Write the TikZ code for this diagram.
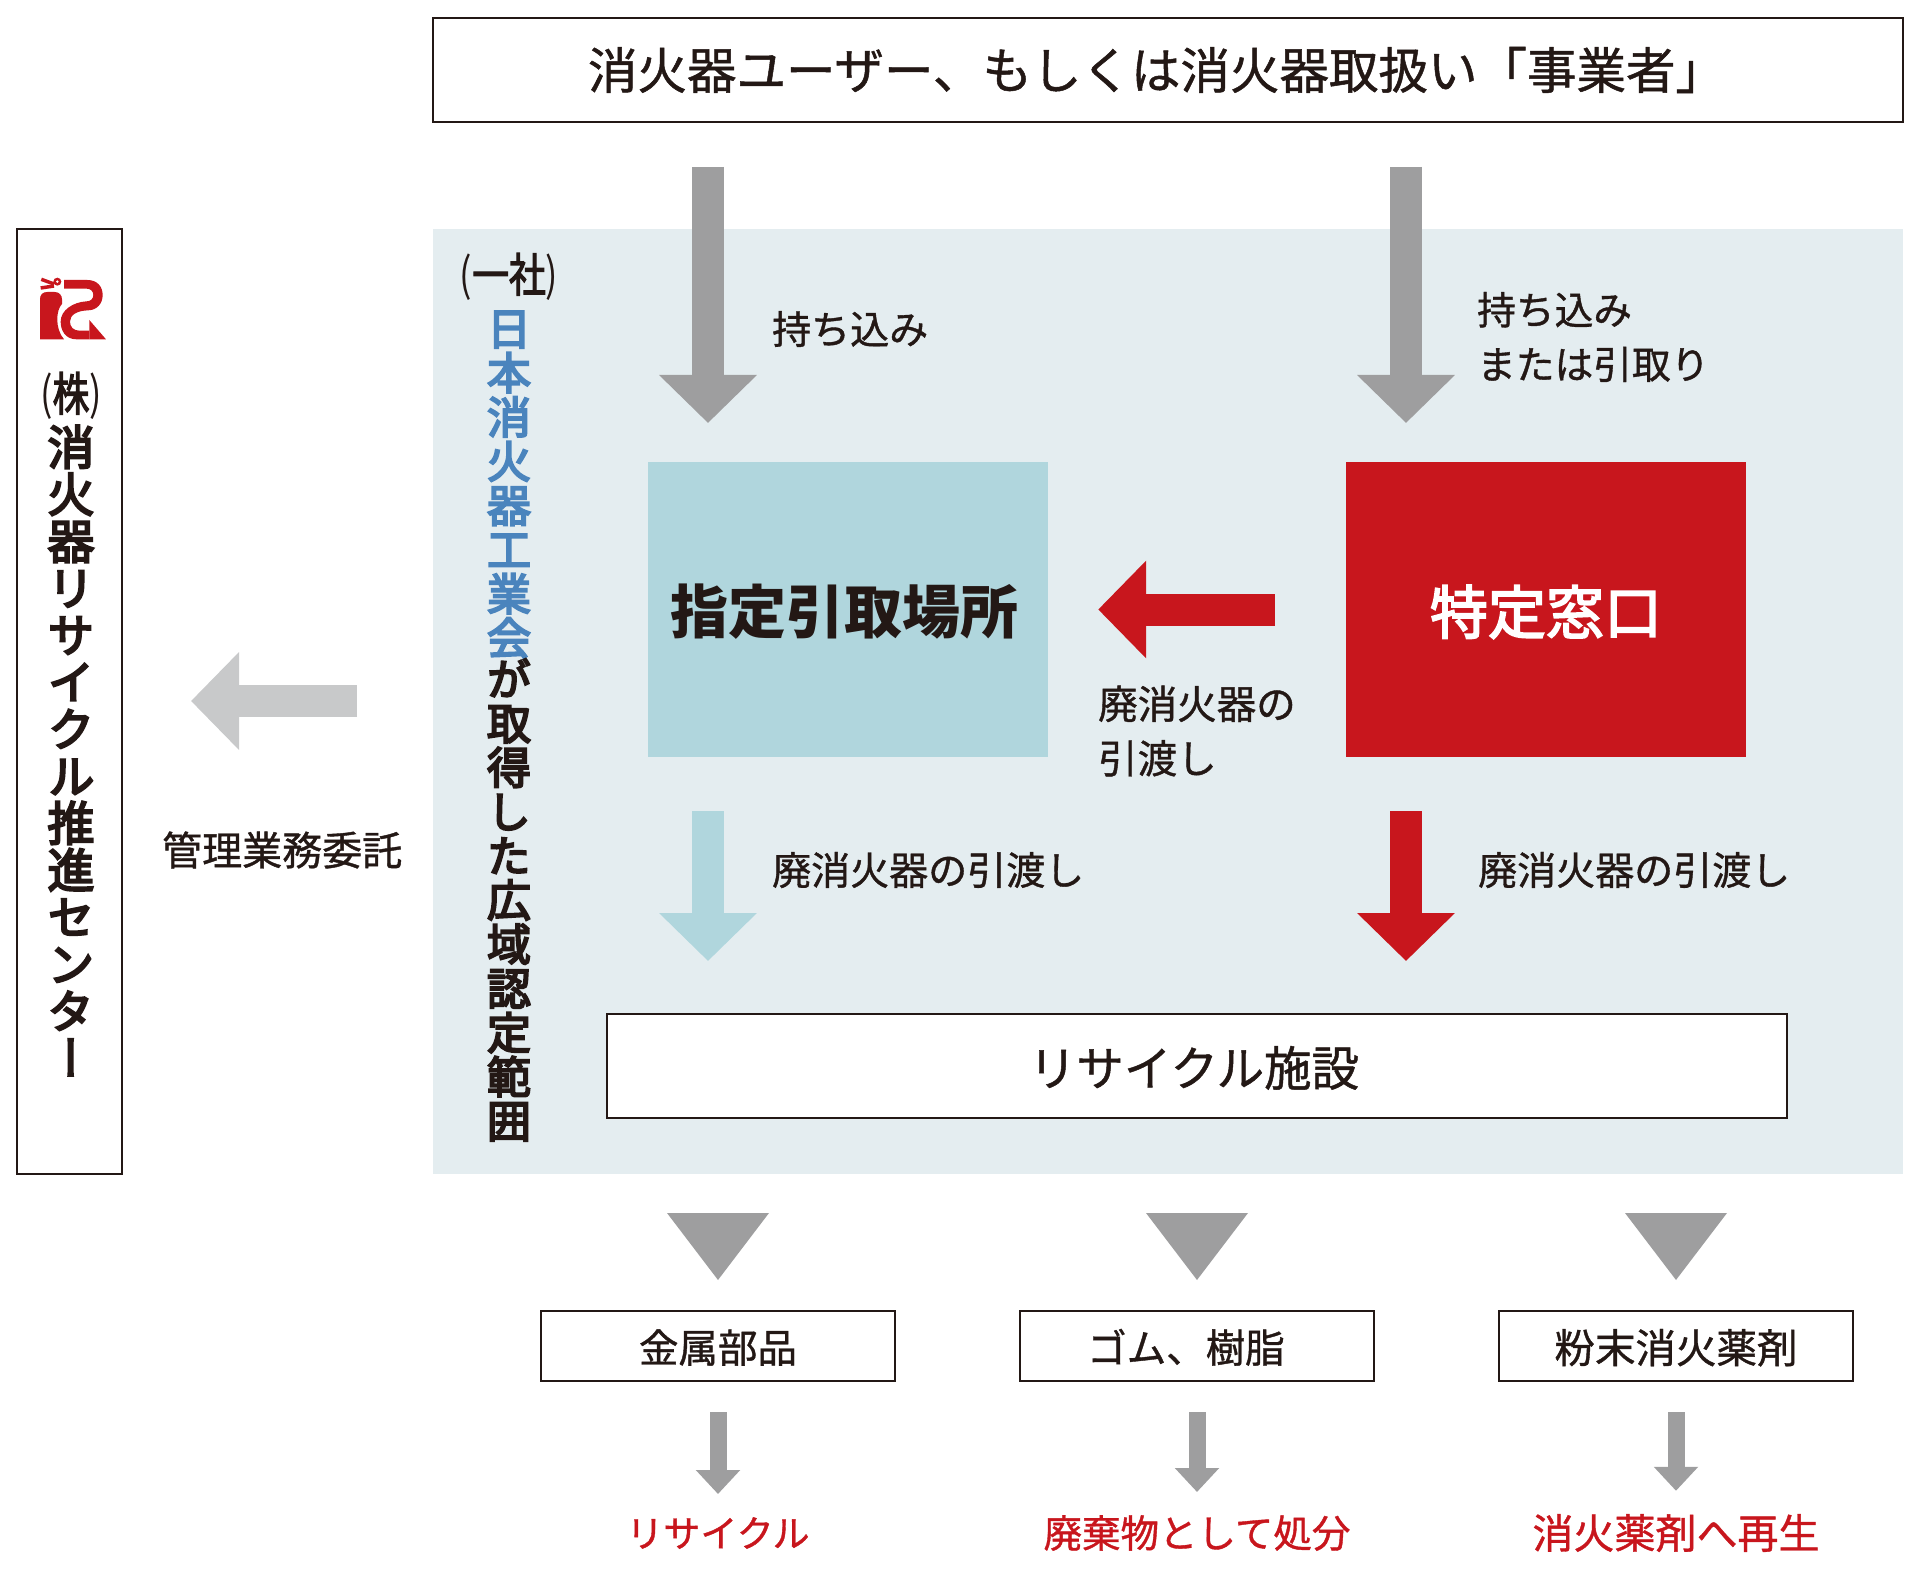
\documentclass[tikz,border=0pt]{standalone}
\usepackage{graphicx}
\usepackage{fontspec}
\setmainfont{Noto Sans CJK JP}
\newfontfamily\mediumfont[FakeBold=1]{Noto Sans CJK JP}
\newfontfamily\heavyfont[FakeBold=3]{Noto Sans CJK JP}
\newfontfamily\vertfont[RawFeature={+vert}, FakeBold=4.5]{Noto Sans CJK JP}
\usetikzlibrary{arrows.meta,positioning}
\definecolor{inkblack}{HTML}{231815}
\definecolor{panelblue}{HTML}{E4EDF0}
\definecolor{paleblue}{HTML}{B0D6DD}
\definecolor{firered}{HTML}{C8161D}
\definecolor{arrowgray}{HTML}{9E9E9F}
\definecolor{palegray}{HTML}{C8C9CA}
\definecolor{nameblue}{HTML}{4A84BD}
\newcommand{\cjkstrut}{\rule[-.12em]{0pt}{1.08em}}
\tikzset{
	linebox/.style={draw=inkblack, line width=2, fill=white, inner sep=0, text=inkblack},
	areabox/.style={inner sep=0, minimum width=400, minimum height=295},
	label/.style={inner sep=0, anchor=west, align=left, text=inkblack, font=\mediumfont\fontsize{39}{54.5}\selectfont},
	redlabel/.style={inner sep=0, text=firered},
	bigarrow/.style={line width=32, -{Triangle[length=48,width=95]}},
	smallarrow/.style={line width=17, arrowgray, -{Triangle[length=24,width=43]}},
	vertlabel/.style={inner sep=0, align=center, text=inkblack},
}
\begin{document}
\begin{tikzpicture}[x=1pt, y=-1pt]
	\useasboundingbox (0,0) rectangle (1920,1578);
	\fill[panelblue] (433,229) rectangle (1903,1174);

	% boxes
	\node[linebox, minimum width=1470, minimum height=104, font=\mediumfont\fontsize{49.5}{49.5}\selectfont] (user) at (1168,70) {\hspace*{-23pt}消火器ユーザー、もしくは消火器取扱い「事業者」};
	\node[linebox, minimum width=105, minimum height=945] (center) at (69.5,701.5) {};
	\node[areabox, fill=paleblue, text=inkblack, font=\fontsize{58}{58}\bfseries\selectfont] (yard) at (848,609.5) {\hspace*{-7pt}\cjkstrut 指定引取場所};
	\node[areabox, fill=firered, text=white, font=\heavyfont\fontsize{58}{58}\selectfont] (window) at (1546,609.5) {\cjkstrut 特定窓口};
	\node[linebox, minimum width=1180, minimum height=104, font=\mediumfont\fontsize{47.5}{47.5}\selectfont] (plant) at (1197,1066) {\hspace*{-6pt}\cjkstrut リサイクル施設};
	\node[linebox, minimum width=354, minimum height=70, font=\mediumfont\fontsize{39.5}{39.5}\selectfont] (metal) at (718,1346) {\cjkstrut 金属部品};
	\node[linebox, minimum width=354, minimum height=70, font=\mediumfont\fontsize{39.5}{39.5}\selectfont] (rubber) at (1197,1346) {\hspace*{-22pt}\cjkstrut ゴム、樹脂};
	\node[linebox, minimum width=354, minimum height=70, font=\mediumfont\fontsize{40.5}{40.5}\selectfont] (powder) at (1676,1346) {\cjkstrut 粉末消火薬剤};

	% labels
	\node[label] (bringa) at (772,329) {持ち込み};
	\node[label, font=\mediumfont\fontsize{38.7}{54.5}\selectfont] (bringb) at (1477,337) {持ち込み\\または引取り};
	\node[label, font=\mediumfont\fontsize{39.5}{54.5}\selectfont] (handa) at (1098,731) {廃消火器の\\引渡し};
	\node[label] (handb) at (772,870) {廃消火器の引渡し};
	\node[label] (handc) at (1478,870) {廃消火器の引渡し};
	\node[label, font=\mediumfont\fontsize{40}{40}\selectfont] (admin) at (162,850) {管理業務委託};
	\node[redlabel, font=\mediumfont\fontsize{37}{37}\selectfont] (reuse) at (718,1533) {リサイクル};
	\node[redlabel, font=\mediumfont\fontsize{38.5}{38.5}\selectfont] (waste) at (1197,1533) {廃棄物として処分};
	\node[redlabel, font=\mediumfont\fontsize{41}{41}\selectfont] (reborn) at (1676,1533) {消火薬剤へ再生};

	% vertical names
	\node[vertlabel, font=\fontsize{46}{50}\selectfont] (kabu) at (71,396) {\scalebox{0.8}[1]{({\heavyfont 株})}};
	\node[vertlabel, below=5pt of kabu, font=\vertfont\fontsize{47}{47}\selectfont] (centername) {消\\火\\器\\リ\\サ\\イ\\ク\\ル\\推\\進\\セ\\ン\\タ\\ー};
	\node[vertlabel, font=\fontsize{46}{50}\selectfont] (assoc) at (509,277) {\scalebox{0.8}[1]{({\heavyfont 一社})}};
	\node[vertlabel, below=10pt of assoc, text=nameblue, font=\vertfont\fontsize{44}{44.2}\selectfont] (assocblue) {日\\本\\消\\火\\器\\工\\業\\会};
	\node[vertlabel, below=0pt of assocblue, font=\vertfont\fontsize{44}{44.2}\selectfont] (assocblack) {が\\取\\得\\し\\た\\広\\域\\認\\定\\範\\囲};

	% logo
	\begin{scope}[shift={(20,260)}, scale=1/3, firered]
		\fill (60,238) -- (60,118) .. controls (60,104) and (68,96) .. (82,96) -- (104,96) .. controls (118,96) and (126,106) .. (126,118) -- (126,132) .. controls (108,150) and (104,205) .. (132,238) -- cycle;
		\draw[line width=3.5] (64,58) -- (102,72);
		\draw[line width=3.5] (62,84) -- (102,78);
		\fill (112,65) circle [radius=12];
		\fill[white] (112,65) circle [radius=4];
		\fill (132,60) -- (202,60) .. controls (232,60) and (248,80) .. (248,105) .. controls (248,130) and (232,150) .. (205,151) .. controls (170,152) and (150,165) .. (150,185) .. controls (150,200) and (160,212) .. (178,212) -- (208,212) -- (208,238) -- (170,238) .. controls (135,238) and (122,210) .. (122,185) .. controls (122,150) and (160,126) .. (200,124) .. controls (212,124) and (220,116) .. (220,105) .. controls (220,94) and (212,86) .. (200,86) -- (132,86) -- cycle;
		\fill (208,180) -- (258,238) -- (208,238) -- cycle;
	\end{scope}

	% arrows
	\coordinate (bringas) at (708,167);
	\coordinate (bringae) at (708,423);
	\coordinate (bringbs) at (1406,167);
	\coordinate (bringbe) at (1406,423);
	\coordinate (yards) at (708,811);
	\coordinate (yarde) at (708,961);
	\coordinate (windows) at (1406,811);
	\coordinate (windowe) at (1406,961);
	\coordinate (admins) at (357,701);
	\coordinate (admine) at (191,701);
	\draw[bigarrow, arrowgray] (bringas) -- (bringae);
	\draw[bigarrow, arrowgray] (bringbs) -- (bringbe);
	\draw[bigarrow, firered, shorten <=71, shorten >=50] (window) -- (yard);
	\draw[bigarrow, paleblue] (yards) -- (yarde);
	\draw[bigarrow, firered] (windows) -- (windowe);
	\draw[bigarrow, palegray] (admins) -- (admine);
	\fill[arrowgray] (667,1213) -- (769,1213) -- (718,1280) -- cycle;
	\fill[arrowgray] (1146,1213) -- (1248,1213) -- (1197,1280) -- cycle;
	\fill[arrowgray] (1625,1213) -- (1727,1213) -- (1676,1280) -- cycle;
	\draw[smallarrow, shorten <=30, shorten >=23] (metal) -- (reuse);
	\draw[smallarrow, shorten <=30, shorten >=23] (rubber) -- (waste);
	\draw[smallarrow, shorten <=30, shorten >=23] (powder) -- (reborn);
\end{tikzpicture}
\end{document}
